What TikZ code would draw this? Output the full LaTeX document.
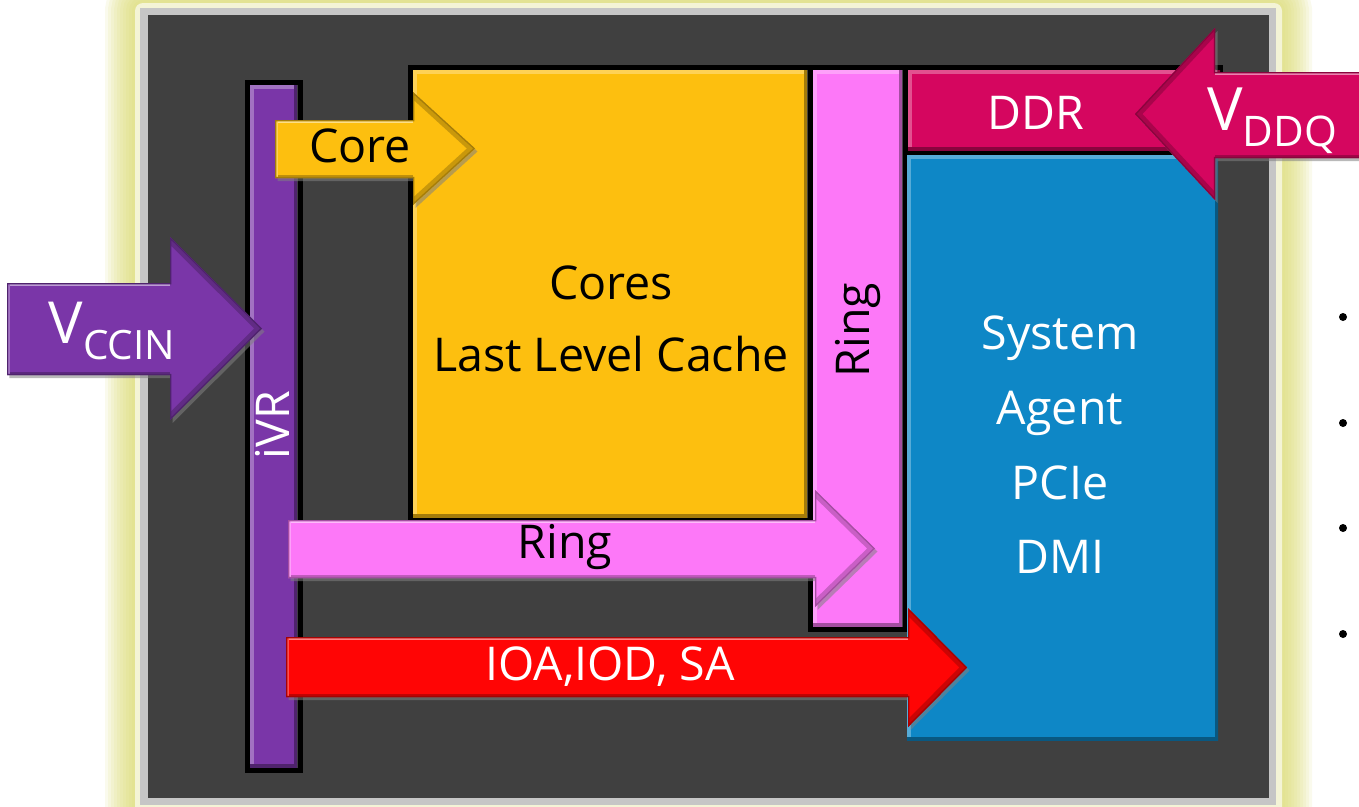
\documentclass[tikz,border=0pt]{standalone}
\usepackage{fontspec}
\setmainfont{Open Sans}
\usetikzlibrary{shadows}

\definecolor{diebg}{HTML}{404040}
\definecolor{frameband}{HTML}{C6C6C6}
\definecolor{framecream}{HTML}{F4F4D6}
\definecolor{frameglow}{HTML}{D8D86A}
\definecolor{ivrpurple}{HTML}{7A36A8}
\definecolor{coreyellow}{HTML}{FDBF0F}
\definecolor{ringpink}{HTML}{FD78F8}
\definecolor{ddrmagenta}{HTML}{D5065F}
\definecolor{sablue}{HTML}{0E87C6}
\definecolor{ioared}{HTML}{FF0505}

% bevelled block: colour, x1, y1, x2, y2
\newcommand{\bevelbox}[5]{%
  \fill[#1] (#2,#3) rectangle (#4,#5);
  \begin{scope}
    \clip (#2,#3) rectangle (#4,#5);
    \draw[#1!70!white, line width=0.14cm] (#2,#5) -- (#2,#3) -- (#4,#3);
    \draw[#1!65!black, line width=0.14cm] (#2,#5) -- (#4,#5) -- (#4,#3);
  \end{scope}}

% bevelled block arrow: colour, tail x, head x, tip x,
% shaft top, shaft bottom, head top, head bottom
\newcommand{\powerarrow}[8]{%
  \fill[bigarrow, #1] (#2,#5) -- (#3,#5) -- (#3,#7) -- (#4,{(#7+#8)/2})
    -- (#3,#8) -- (#3,#6) -- (#2,#6) -- cycle;
  \begin{scope}
    \clip (#2,#5) -- (#3,#5) -- (#3,#7) -- (#4,{(#7+#8)/2})
      -- (#3,#8) -- (#3,#6) -- (#2,#6) -- cycle;
    % darker slopes of the head and lower edge of the shaft
    \draw[#1!55!black, line width=0.22cm, opacity=0.45]
      (#3,#7) -- (#4,{(#7+#8)/2}) -- (#3,#8);
    \draw[#1!60!black, line width=0.14cm, opacity=0.6] (#2,#6) -- (#3,#6);
    % lighter upper edge and tail
    \draw[#1!50!white, line width=0.12cm] (#2,#5) -- (#3,#5);
    \draw[#1!70!white, line width=0.12cm] (#2,#5) -- (#2,#6);
    % thin rim
    \draw[#1!65!black, line width=0.05cm] (#2,#5) -- (#3,#5) -- (#3,#7)
      -- (#4,{(#7+#8)/2}) -- (#3,#8) -- (#3,#6) -- (#2,#6) -- cycle;
  \end{scope}}

\begin{document}
\begin{tikzpicture}[x=0.02cm, y=-0.02cm,
  blk/.style={draw=black, line width=0.1cm},
  lbl/.style={font=\fontsize{26.5}{30}\selectfont, inner sep=0pt, anchor=base},
  wlbl/.style={lbl, text=white},
  bigarrow/.style={drop shadow={opacity=0.55, shadow xshift=0.05cm, shadow yshift=-0.06cm}}]

\useasboundingbox (0,0) rectangle (1359,806);

% frame with its yellow glow
\foreach \i in {1,...,10}
  \draw[frameglow, opacity=0.12, line width=\i*0.12cm, rounded corners=0.16cm]
    (135,3) rectangle (1282,840);
\fill[framecream, rounded corners=0.16cm] (135,3) rectangle (1282,840);
\fill[frameband] (140,8) rectangle (1276,805);
\fill[diebg] (148,15) rectangle (1269,798);

% blocks on the die
\draw[blk] (247,82) rectangle (300,770);
\draw[blk] (410,67) rectangle (810,520);
\draw[blk] (810,67) rectangle (905,629);
\draw[blk] (905,67) rectangle (1220,152);
\bevelbox{ivrpurple}{250}{85}{297}{767}
\bevelbox{coreyellow}{413}{70}{807}{517}
\bevelbox{ringpink}{813}{70}{902}{626}
\bevelbox{ddrmagenta}{908}{70}{1220}{150}
\bevelbox{sablue}{907}{155}{1218}{740}

\node[wlbl, rotate=90, anchor=center] (ivr) at (272,425) {iVR};
\node[lbl] (cores) at (611,299) {Cores};
\node[lbl] (llc) at (611,371) {Last Level Cache};
\node[lbl, rotate=90, anchor=center] (ringbar) at (858,330) {Ring};
\node[wlbl] (ddr) at (1036,129) {DDR};
\node[wlbl] (system) at (1060,349) {System};
\node[wlbl] (agent) at (1060,424) {Agent};
\node[wlbl] (pcie) at (1060,499) {PCIe};
\node[wlbl] (dmi) at (1060,573) {DMI};

% supply arrows
\powerarrow{ivrpurple}{7}{170}{262}{283}{375}{237}{420}
\powerarrow{coreyellow}{275}{413}{475}{120}{178}{92}{205}
\powerarrow{ringpink}{288}{815}{875}{520}{578}{490}{607}
\powerarrow{ioared}{286}{908}{967}{637}{697}{608}{727}
\powerarrow{ddrmagenta}{1375}{1215}{1135}{72}{158}{28}{200}

\node[wlbl] (vccin) at (112,343)
  {\fontsize{33}{33}\selectfont V\raisebox{-0.28em}{\fontsize{23}{23}\selectfont CCIN}};
\node[lbl] (core) at (360,162) {Core};
\node[lbl] (ring) at (565,558) {Ring};
\node[wlbl] (ioa) at (610,680) {IOA,IOD, SA};
\node[wlbl] (vddq) at (1272,130)
  {\fontsize{34}{34}\selectfont V\raisebox{-0.28em}{\fontsize{24}{24}\selectfont DDQ}};

% bullets at the right edge
\foreach \y [count=\k] in {317,423,528,634}
  \fill (1343,\y) circle (0.08cm) coordinate (bullet\k);

\end{tikzpicture}
\end{document}
